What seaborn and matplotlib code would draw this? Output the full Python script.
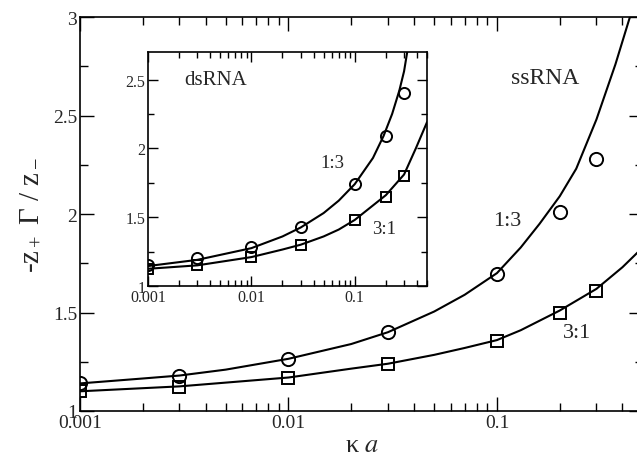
import numpy as np
import matplotlib
matplotlib.use("Agg")
import matplotlib.pyplot as plt
import seaborn as sns
from matplotlib.ticker import MultipleLocator, FixedLocator, FixedFormatter, LogLocator, NullFormatter

sns.set_style("ticks")
plt.rcParams['font.family'] = ['Liberation Serif', 'DejaVu Serif']
plt.rcParams['mathtext.fontset'] = 'stix'
plt.rcParams['xtick.direction'] = 'in'
plt.rcParams['ytick.direction'] = 'in'

# ssRNA (main panel) - simulation points
ka_pts = [0.001, 0.003, 0.01, 0.03, 0.1, 0.2, 0.3]
ss_13_pts = [1.14, 1.18, 1.265, 1.40, 1.695, 2.01, 2.28]
ss_31_pts = [1.10, 1.12, 1.17, 1.24, 1.355, 1.50, 1.61]

# ssRNA theory curves
ss_13_x = [0.001, 0.002, 0.003, 0.005, 0.01, 0.02, 0.03, 0.05, 0.07, 0.1, 0.13, 0.16, 0.2, 0.24, 0.3, 0.37, 0.44]
ss_13_y = [1.14, 1.165, 1.18, 1.21, 1.265, 1.34, 1.40, 1.505, 1.59, 1.70, 1.83, 1.95, 2.09, 2.23, 2.48, 2.76, 3.02]
ss_31_x = [0.001, 0.003, 0.01, 0.02, 0.03, 0.05, 0.07, 0.1, 0.13, 0.2, 0.3, 0.4, 0.5]
ss_31_y = [1.10, 1.125, 1.17, 1.215, 1.24, 1.285, 1.32, 1.36, 1.41, 1.51, 1.62, 1.73, 1.83]

# dsRNA (inset) - simulation points
ds_13_pts = [1.153, 1.20, 1.28, 1.43, 1.74, 2.09, 2.40]
ds_31_pts = [1.12, 1.15, 1.21, 1.30, 1.48, 1.65, 1.80]

# dsRNA theory curves
ds_13_x = [0.001, 0.003, 0.01, 0.02, 0.03, 0.05, 0.07, 0.1, 0.15, 0.19, 0.23, 0.27, 0.30, 0.33]
ds_13_y = [1.145, 1.19, 1.275, 1.36, 1.425, 1.53, 1.62, 1.74, 1.93, 2.09, 2.25, 2.42, 2.56, 2.75]
ds_31_x = [0.001, 0.003, 0.01, 0.02, 0.03, 0.05, 0.07, 0.1, 0.2, 0.3, 0.39, 0.5]
ds_31_y = [1.125, 1.15, 1.21, 1.265, 1.30, 1.36, 1.41, 1.48, 1.66, 1.81, 2.0, 2.19]

x_ticks = [0.001, 0.01, 0.1]
x_tick_labels = ['0.001', '0.01', '0.1']
main_y_ticks = [1, 1.5, 2, 2.5, 3]
main_y_labels = ['1', '1.5', '2', '2.5', '3']
inset_y_ticks = [1, 1.5, 2, 2.5]
inset_y_labels = ['1', '1.5', '2', '2.5']

W, H = 637, 456
fig = plt.figure(figsize=(W / 100, H / 100), dpi=100)

# main axes (right edge sits just past the picture, as in the reference)
ax = fig.add_axes([80 / W, 1 - 412 / H, 562.7 / W, 394 / H])
ins = fig.add_axes([148 / W, 1 - 287 / H, 279 / W, 234 / H])


def style_axes(a, ymin, ymax, yt, ylab, fs, maj, mnr):
    a.set_xscale('log')
    a.set_xlim(0.001, 0.5)
    a.set_ylim(ymin, ymax)
    a.xaxis.set_major_locator(FixedLocator(x_ticks))
    a.xaxis.set_major_formatter(FixedFormatter(x_tick_labels))
    a.xaxis.set_minor_locator(LogLocator(base=10, subs=np.arange(2, 10)))
    a.xaxis.set_minor_formatter(NullFormatter())
    a.yaxis.set_major_locator(FixedLocator(yt))
    a.yaxis.set_major_formatter(FixedFormatter(ylab))
    a.yaxis.set_minor_locator(MultipleLocator(0.25))
    a.tick_params(which='both', top=True, right=True, color='black',
                  labelsize=fs, width=1.0, pad=2)
    a.tick_params(which='major', length=maj)
    a.tick_params(which='minor', length=mnr)
    for s in a.spines.values():
        s.set_visible(True)
        s.set_color('black')
        s.set_linewidth(1.2)
    a.set_xlabel('')
    a.set_ylabel('')


def draw(a, cx, cy, px, py, marker, ms):
    sns.lineplot(x=cx, y=cy, ax=a, color='black', linewidth=1.5, sort=False)
    sns.lineplot(x=px, y=py, ax=a, color='black', linestyle='', marker=marker,
                 markersize=ms, markerfacecolor='none', markeredgecolor='black',
                 markeredgewidth=1.4, sort=False)


# main panel
draw(ax, ss_13_x, ss_13_y, ka_pts, ss_13_pts, 'o', 9.5)
draw(ax, ss_31_x, ss_31_y, ka_pts, ss_31_pts, 's', 8.5)
style_axes(ax, 1, 3, main_y_ticks, main_y_labels, 14, 10, 6)
ax.set_xlabel('κ $a$', fontsize=19)
ax.xaxis.label.set_va('center')
ax.xaxis.set_label_coords(0.501, -0.086)
ax.set_ylabel(r'-$\mathregular{z_+}$ Γ / $\mathregular{z_-}$', fontsize=21)
ax.yaxis.label.set_va('center')
ax.yaxis.set_label_coords(-0.089, 0.50)
ax.text(0.17, 2.695, 'ssRNA', fontsize=17, ha='center', va='center')
ax.text(0.112, 1.965, '1:3', fontsize=16, ha='center', va='center')
ax.text(0.242, 1.396, '3:1', fontsize=16, ha='center', va='center')

# inset panel
draw(ins, ds_13_x, ds_13_y, ka_pts, ds_13_pts, 'o', 8)
draw(ins, ds_31_x, ds_31_y, ka_pts, ds_31_pts, 's', 6.5)
style_axes(ins, 1, 2.7, inset_y_ticks, inset_y_labels, 11.5, 7, 4)
ins.text(0.0045, 2.50, 'dsRNA', fontsize=15, ha='center', va='center')
ins.text(0.061, 1.896, '1:3', fontsize=13.5, ha='center', va='center')
ins.text(0.191, 1.42, '3:1', fontsize=13.5, ha='center', va='center')

fig.savefig('out.png', dpi=100)
